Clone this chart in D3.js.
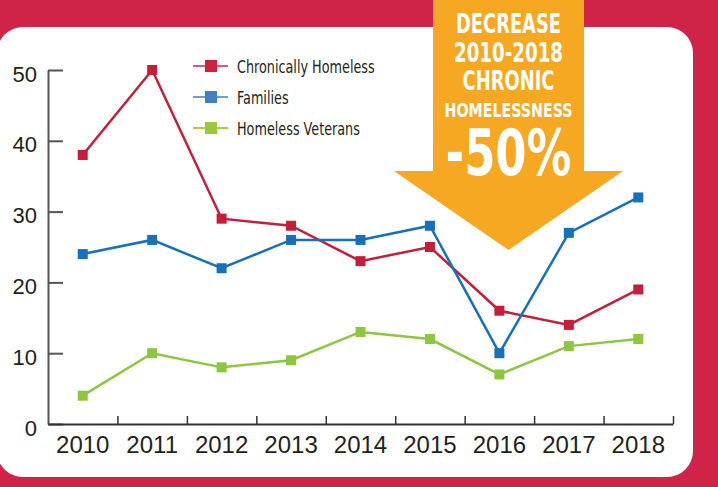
<!DOCTYPE html>
<html>
<head>
<meta charset="utf-8">
<script src="https://cdn.jsdelivr.net/npm/d3@7"></script>
<style>
  html, body { margin: 0; padding: 0; background: #cf2348; }
  svg { display: block; }
</style>
</head>
<body>
<svg id="drawing_region"></svg>
<script>
// data
const years = ['2010','2011','2012','2013','2014','2015','2016','2017','2018'];
const chronic = [38, 50, 29, 28, 23, 25, 16, 14, 19];
const families = [24, 26, 22, 26, 26, 28, 10, 27, 32];
const veterans = [4, 10, 8, 9, 13, 12, 7, 11, 12];
const yTicks = [0, 10, 20, 30, 40, 50];
const seriesNames = ['Chronically Homeless', 'Families', 'Homeless Veterans'];
const calloutLines = ['DECREASE', '2010-2018', 'CHRONIC', 'HOMELESSNESS'];
const calloutValue = '-50%';

const W = 718, H = 487;
const narrow = "'Liberation Sans Narrow', 'DejaVu Sans Condensed', sans-serif";
const plain = "'Liberation Sans', Arial, sans-serif";

const svg = d3.select('#drawing_region')
    .attr('width', W)
    .attr('height', H);

// red frame + white card
svg.append('rect')
    .attr('width', W).attr('height', H)
    .attr('fill', '#cf2348');
svg.append('rect')
    .attr('x', -3).attr('y', 27)
    .attr('width', 696).attr('height', 450)
    .attr('rx', 26).attr('ry', 26)
    .attr('fill', '#fff');

const xscale = d3.scaleBand()
    .domain(years)
    .range([48, 673])
    .paddingInner(0).paddingOuter(0);
const xedge = d3.scaleLinear()
    .domain([0, years.length])
    .range([48, 673]);
const yscale = d3.scaleLinear()
    .domain([0, 50])
    .range([424, 70]);

const cx = d => xscale(d) + xscale.bandwidth() / 2;

// orange callout arrow (behind the lines)
const ax = 508.5;
svg.append('path')
    .attr('d', `M${ax-75.5},-5 L${ax+75.5},-5 L${ax+75.5},171 L${ax+114.5},171 L${ax},250 L${ax-114.5},171 L${ax-75.5},171 Z`)
    .attr('fill', '#f7a823');

const calloutSpec = [
    {y: 33, size: 27, w: 105},
    {y: 62, size: 27, w: 109},
    {y: 90, size: 27, w: 92},
    {y: 117, size: 20, w: 128}
];
svg.selectAll('.callout')
    .data(calloutLines)
    .enter()
    .append('text')
    .attr('class', 'callout')
    .attr('x', ax)
    .attr('y', (d, i) => calloutSpec[i].y)
    .attr('text-anchor', 'middle')
    .attr('font-family', narrow)
    .attr('font-weight', 'bold')
    .attr('font-size', (d, i) => calloutSpec[i].size)
    .attr('textLength', (d, i) => calloutSpec[i].w)
    .attr('lengthAdjust', 'spacingAndGlyphs')
    .attr('fill', '#fff')
    .text(d => d);
svg.append('text')
    .attr('x', ax)
    .attr('y', 175)
    .attr('text-anchor', 'middle')
    .attr('font-family', narrow)
    .attr('font-weight', 'bold')
    .attr('font-size', 64)
    .attr('textLength', 126)
    .attr('lengthAdjust', 'spacingAndGlyphs')
    .attr('fill', '#fff')
    .text(calloutValue);

// axes
const yaxis = d3.axisLeft(yscale)
    .tickValues(yTicks)
    .tickSizeInner(-15)
    .tickSizeOuter(0)
    .tickPadding(11);
const yg = svg.append('g')
    .attr('transform', 'translate(48,0)')
    .call(yaxis);
yg.select('.domain').attr('stroke', '#555').attr('stroke-width', 2);
yg.selectAll('.tick line').attr('stroke', '#555').attr('stroke-width', 2);
yg.selectAll('.tick text')
    .attr('font-family', plain)
    .attr('font-size', 22)
    .attr('fill', '#231f20')
    .attr('dy', '0.5em');

const xaxis = d3.axisBottom(xedge)
    .tickValues(d3.range(1, years.length + 1))
    .tickSizeInner(-8)
    .tickSizeOuter(0)
    .tickFormat('');
const xg = svg.append('g')
    .attr('transform', 'translate(0,424)')
    .call(xaxis);
xg.select('.domain').attr('stroke', '#333').attr('stroke-width', 2);
xg.selectAll('.tick line').attr('stroke', '#333').attr('stroke-width', 1.5);

const xlab = d3.axisBottom(xscale).tickSize(0).tickPadding(12);
const xl = svg.append('g')
    .attr('transform', 'translate(0,424)')
    .call(xlab);
xl.select('.domain').remove();
xl.selectAll('.tick text')
    .attr('font-family', plain)
    .attr('font-size', 24)
    .attr('fill', '#231f20');

// series
const series = [
    {name: seriesNames[0], values: chronic, color: '#c41e3a', legLine: '#e05a74', legBox: '#d0213f'},
    {name: seriesNames[1], values: families, color: '#1670ba', legLine: '#6f9fd2', legBox: '#3f7fc8'},
    {name: seriesNames[2], values: veterans, color: '#8dc63f', legLine: '#a9d23c', legBox: '#9cc93a'}
];

const line = d3.line()
    .x((d, i) => cx(years[i]))
    .y(d => yscale(d));

series.forEach(s => {
    svg.append('path')
        .attr('d', line(s.values))
        .attr('fill', 'none')
        .attr('stroke', s.color)
        .attr('stroke-width', 2.5);
    svg.append('g').selectAll('rect')
        .data(s.values)
        .enter()
        .append('rect')
        .attr('x', (d, i) => cx(years[i]) - 5)
        .attr('y', d => yscale(d) - 5)
        .attr('width', 10)
        .attr('height', 10)
        .attr('fill', s.color);
});

// legend
const leg = svg.append('g').attr('transform', 'translate(193,66)');
const legItem = leg.selectAll('g')
    .data(series)
    .enter()
    .append('g')
    .attr('transform', (d, i) => `translate(0,${i * 31})`);
legItem.append('line')
    .attr('x1', 0).attr('x2', 35)
    .attr('stroke', d => d.legLine)
    .attr('stroke-width', 2);
legItem.append('rect')
    .attr('x', 12).attr('y', -6)
    .attr('width', 12).attr('height', 12)
    .attr('fill', d => d.legBox);
legItem.append('text')
    .attr('x', 44)
    .attr('y', 7)
    .attr('font-family', narrow)
    .attr('font-size', 18)
    .attr('fill', '#231f20')
    .text(d => d.name)
    .each(function() {
        // squeeze to the condensed look of the original
        const w = this.getComputedTextLength();
        d3.select(this)
            .attr('textLength', w * 0.79)
            .attr('lengthAdjust', 'spacingAndGlyphs');
    });
</script>
</body>
</html>
